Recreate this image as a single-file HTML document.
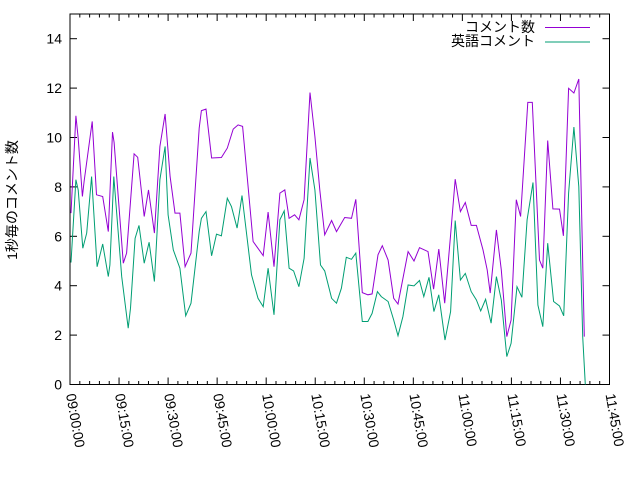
<!DOCTYPE html>
<html><head><meta charset="utf-8"><style>
body{margin:0;background:#fff;}
svg{display:block;font-family:"Liberation Sans","Noto Sans CJK JP",sans-serif;}
</style></head><body>
<svg id="chart" width="640" height="480" viewBox="0 0 640 480" xmlns="http://www.w3.org/2000/svg">
<rect x="0" y="0" width="640" height="480" fill="#fff"/>
<g id="axes"></g>
<g id="series"></g>
<text transform="translate(17,200) rotate(-90)" text-anchor="middle" font-size="14" fill="#000">1秒毎のコメント数</text>
<g>
<text x="535" y="32" text-anchor="end" font-size="14">コメント数</text>
<line x1="545" y1="27.5" x2="590" y2="27.5" stroke="#9400d3" stroke-width="1"/>
<text x="535" y="46" text-anchor="end" font-size="14">英語コメント</text>
<line x1="545" y1="42" x2="590" y2="42" stroke="#009e73" stroke-width="1"/>
</g>
</svg>
<script>
// minutes after 09:00:00
const purpleT=[0.3,1.8,2.5,3.8,4.3,6.8,8.1,10,11.7,13,13.5,16.3,17.3,19.6,20.7,22.7,24,25.8,27.5,29.1,30.6,32.1,33.6,35.2,37,39.5,40.2,41.6,43.3,46.3,48.1,49.9,51.4,52.8,56,59.1,60.6,62.4,64.2,65.7,67,68.7,70,71.6,73.4,74.9,76.4,77.9,80,81.5,84,86.1,87.4,89.4,91.1,92.4,94.2,95.5,97.3,99,100.3,103.4,105.2,106.9,109.5,111.2,112.8,114.6,116.4,117.8,119.4,120.9,122.7,124.3,126.3,127.6,128.5,130.4,131.9,133.6,134.9,136.5,137.8,140,141.4,143.6,144.6,146.1,147.7,149.7,150.9,152.5,154.1,155.6,156.6,157.3];
const purpleV=[6.94,10.88,9.97,7.61,8.22,10.65,7.68,7.61,6.19,10.22,9.8,4.91,5.32,9.34,9.2,6.8,7.88,6.13,9.64,10.95,8.42,6.94,6.94,4.77,5.32,10.38,11.09,11.15,9.17,9.19,9.57,10.34,10.51,10.45,5.79,5.22,6.98,4.77,7.75,7.88,6.73,6.87,6.67,7.48,11.82,10.04,7.88,6.06,6.64,6.19,6.76,6.73,7.5,3.72,3.63,3.67,5.25,5.62,5.04,3.49,3.26,5.38,5.0,5.54,5.38,3.86,5.48,3.29,6.06,8.31,7.0,7.37,6.44,6.44,5.45,4.64,3.7,6.26,4.64,1.94,2.61,7.48,6.8,11.42,11.42,5.04,4.71,9.88,7.11,7.1,6.02,11.99,11.8,12.37,6.26,1.94];
const greenT=[0.3,1.8,2.5,3.9,5.1,6.6,8.3,10,11.7,12.2,13.4,15.8,17.8,18.5,19.9,21.1,22.7,24.2,25.8,27.5,29.1,30,31.6,33.6,35.4,37,39.5,40.2,41.6,43.3,44.8,46.3,48.1,49.4,51.1,52.6,55.5,57.5,59.1,60.6,62.4,64.2,65.5,67,68.4,70,71.6,73.4,74.9,76.6,77.9,80,81.5,83,84.5,86.1,87.4,89.4,91.1,92.4,94,95.2,97.3,99,100.3,101.8,103.4,105.2,106.9,108.2,109.8,111.3,112.8,114.7,116.4,117.8,119.4,120.9,122.7,124.3,125.6,127.1,128.8,130.4,131.9,133.6,134.9,136.7,138.2,139.8,141.6,143.1,144.6,146.1,147.9,149.7,151,152.5,154.1,155.6,156.8,157.6];
const greenV=[4.94,8.29,7.88,5.52,6.13,8.42,4.77,5.69,4.37,4.84,8.42,4.37,2.28,3.09,5.92,6.44,4.91,5.76,4.17,8.29,9.64,6.87,5.45,4.71,2.78,3.29,6.19,6.73,7.0,5.21,6.09,6.02,7.54,7.2,6.33,7.65,4.44,3.49,3.15,4.71,2.82,6.67,7.03,4.71,4.6,3.96,5.11,9.17,7.88,4.84,4.6,3.49,3.29,3.9,5.15,5.07,5.32,2.55,2.55,2.88,3.76,3.56,3.36,2.61,1.97,2.75,4.03,3.99,4.21,3.56,4.34,2.95,3.63,1.8,2.95,6.64,4.23,4.5,3.76,3.42,2.98,3.45,2.48,4.37,3.42,1.13,1.67,3.96,3.53,6.67,8.18,3.22,2.34,5.72,3.36,3.18,2.78,7.75,10.42,8.01,1.94,0];
const yTicks=[0,2,4,6,8,10,12,14];
const xTickLabels=["09:00:00","09:15:00","09:30:00","09:45:00","10:00:00","10:15:00","10:30:00","10:45:00","11:00:00","11:15:00","11:30:00","11:45:00"];

const L=70,R=609.5,T=14,B=384.5,XMAX=165,YMAX=15;
const xs=m=>L+(R-L)*m/XMAX, ys=v=>B-(B-T)*v/YMAX;
const NS="http://www.w3.org/2000/svg";
const axes=document.getElementById('axes'), series=document.getElementById('series');
function mk(tag,attrs,parent){const e=document.createElementNS(NS,tag);for(const k in attrs)e.setAttribute(k,attrs[k]);parent.appendChild(e);return e;}

yTicks.forEach(v=>{
  const y=ys(v);
  const a=mk('line',{x1:L,y1:y,x2:L+7,y2:y,stroke:'#000'},axes);
  
  
  const b=mk('line',{x1:R-7,y1:y,x2:R,y2:y,stroke:'#000'},axes);
  
  
  const t=mk('text',{x:L-8,y:y+5,'text-anchor':'end','font-size':14},axes);
  t.textContent=v;
  
  
});
for(let m=0;m<=XMAX;m+=3){
  const x=xs(m), major=(m%15===0);
  const len=major?7:3.5;
  const a=mk('line',{x1:x,y1:B,x2:x,y2:B-len,stroke:'#000'},axes);
  
  
  const b=mk('line',{x1:x,y1:T,x2:x,y2:T+len,stroke:'#000'},axes);
  
  
}
xTickLabels.forEach((lab,i)=>{
  const x=xs(i*15);
  const t=mk('text',{transform:`translate(${x-4},${B+10}) rotate(80)`,'font-size':14},axes);
  t.textContent=lab;
  
  
});
const fr=mk('rect',{x:L,y:T,width:R-L,height:B-T,fill:'none',stroke:'#000'},axes);



function line(T_,V_,color,name){
  const d=T_.map((t,i)=>(i?'L':'M')+xs(t).toFixed(1)+','+ys(V_[i]).toFixed(1)).join('');
  const p=mk('path',{d:d,fill:'none',stroke:color,'stroke-width':1},series);
  
  
}
line(greenT,greenV,'#009e73','english-comments-line');
line(purpleT,purpleV,'#9400d3','comments-line');
</script>
</body></html>
